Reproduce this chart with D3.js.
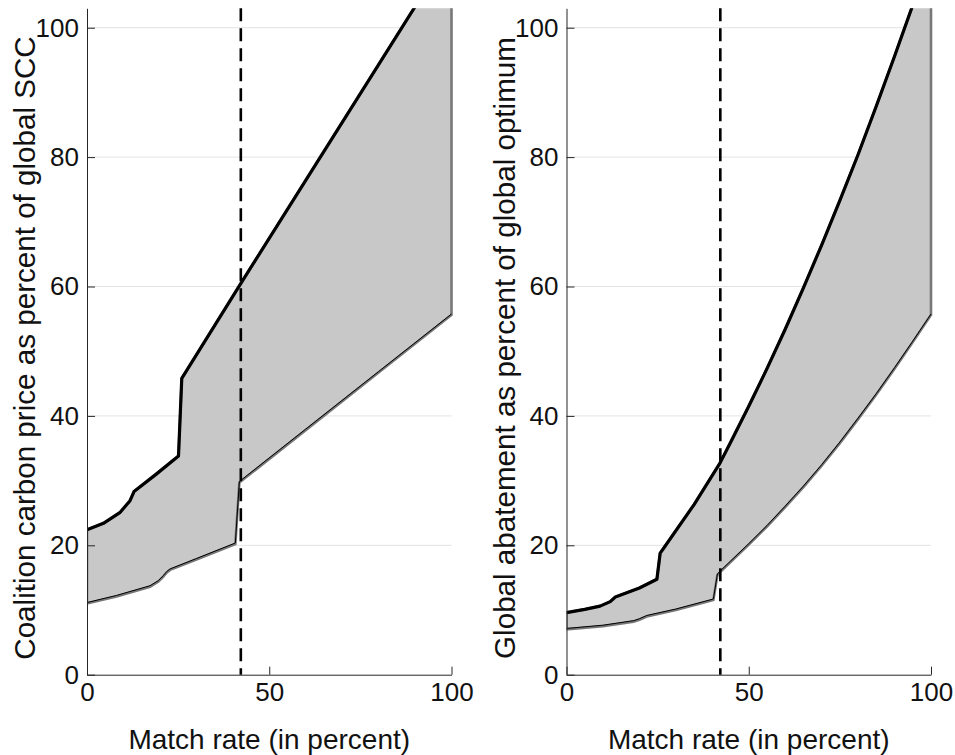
<!DOCTYPE html>
<html>
<head>
<meta charset="utf-8">
<script src="https://cdn.jsdelivr.net/npm/d3@7"></script>
<style>
    body { margin: 0; background: #fff; }
    svg text { font-family: "Liberation Sans", Arial, Helvetica, sans-serif; fill: #111; }
</style>
</head>
<body>
<div id="chart"></div>
<script>

// x = match rate (percent), y = percent of global value

// left panel: coalition carbon price
const priceUpper = [[0, 22.4], [4.5, 23.4], [9.1, 25.1], [11.8, 26.9], [12.9, 28.3], [19, 31.0],
    [25.1, 33.8], [26, 45.8], [42, 60.3], [60, 76.4], [80, 94.3], [100, 112.2]];
const priceLower = [[0, 11.0], [8.1, 12.1], [17.3, 13.6], [19.6, 14.4], [21, 15.2], [21.9, 15.8],
    [22.8, 16.2], [30, 17.8], [40.7, 20.2], [41.8, 29.7], [60, 37.8], [80, 46.7], [100, 55.6]];

// right panel: global abatement
const abateUpper = [[0, 9.6], [5, 10.1], [9.2, 10.6], [12, 11.3], [13.4, 12.0], [20, 13.4],
    [24.8, 14.75], [25.7, 18.8], [26.6, 19.5], [35, 26.3], [42.1, 32.7], [45, 35.9], [50, 41.5],
    [55, 47.3], [60, 53.4], [65, 59.8], [70, 66.4], [75, 73.3], [80, 80.4], [85, 87.9],
    [90, 95.6], [95, 103.5], [100, 111.7]];
const abateLower = [[0, 7.0], [10, 7.5], [18.4, 8.2], [20, 8.5], [22, 9.0], [30, 10.0],
    [40.3, 11.55], [41.4, 15.4], [42.2, 15.9], [45, 17.4], [50, 20.1], [55, 22.9], [60, 25.9],
    [65, 29.0], [70, 32.3], [75, 35.8], [80, 39.5], [85, 43.3], [90, 47.3], [95, 51.4], [100, 55.6]];

const matchRate = 42.2;          // dashed reference line
const xTicks = [0, 50, 100];
const yTicks = [0, 20, 40, 60, 80, 100];
const xLabel = "Match rate (in percent)";
const yLabels = ["Coalition carbon price as percent of global SCC",
    "Global abatement as percent of global optimum"];


class BandPanel {

    constructor(svg, id, left, upper, lower, yTitle) {
        this.svg = svg;
        this.id = id;
        this.left = left;
        this.upper = upper;
        this.lower = lower;
        this.yTitle = yTitle;

        this.initVis();
    }

    initVis() {
        let vis = this;

        vis.width = 364.5;
        vis.top = 8.3;
        vis.bottom = 674.7;

        vis.x = d3.scaleLinear().domain([0, 100]).range([vis.left, vis.left + vis.width]);
        vis.y = d3.scaleLinear().domain([0, 103]).range([vis.bottom, vis.top]);

        vis.g = vis.svg.append("g");

        // clip to the axes box (a little slack on the right for the edge line)
        vis.g.append("clipPath").attr("id", "clip-" + vis.id)
            .append("rect")
            .attr("x", vis.x(0))
            .attr("y", vis.y(103))
            .attr("width", vis.width + 2)
            .attr("height", vis.y(0) - vis.y(103));

        // grid
        vis.g.selectAll(".grid")
            .data(yTicks.filter(d => d > 0))
            .enter().append("line")
            .attr("class", "grid")
            .attr("x1", vis.x(0)).attr("x2", vis.x(100))
            .attr("y1", d => vis.y(d)).attr("y2", d => vis.y(d))
            .attr("stroke", "#e3e3e3")
            .attr("stroke-width", 1);

        vis.plot = vis.g.append("g").attr("clip-path", `url(#clip-${vis.id})`);

        vis.line = d3.line().x(d => vis.x(d[0])).y(d => vis.y(d[1]));

        vis.updateVis();
    }

    updateVis() {
        let vis = this;

        // band between the two curves
        let band = vis.upper.concat(vis.lower.slice().reverse());
        vis.plot.append("path")
            .datum(band)
            .attr("d", d => vis.line(d) + "Z")
            .attr("fill", "#c8c8c8")
            .attr("stroke", "#787878")
            .attr("stroke-width", 2.6);

        // lower bound, thin black on the grey edge
        vis.plot.append("path")
            .datum(vis.lower)
            .attr("d", vis.line)
            .attr("transform", "translate(0,-1)")
            .attr("fill", "none")
            .attr("stroke", "#000")
            .attr("stroke-width", 1);

        // upper bound
        vis.plot.append("path")
            .datum(vis.upper)
            .attr("d", vis.line)
            .attr("fill", "none")
            .attr("stroke", "#000")
            .attr("stroke-width", 3.2)
            .attr("stroke-linejoin", "round");

        // dashed match rate
        vis.g.append("line")
            .attr("x1", vis.x(matchRate)).attr("x2", vis.x(matchRate))
            .attr("y1", vis.y(103)).attr("y2", vis.y(0))
            .attr("stroke", "#000")
            .attr("stroke-width", 2.6)
            .attr("stroke-dasharray", "13,7");

        // axes, ticks inward
        let xAxis = d3.axisBottom(vis.x).tickValues(xTicks)
            .tickSizeInner(-8).tickSizeOuter(0).tickPadding(8);
        let yAxis = d3.axisLeft(vis.y).tickValues(yTicks)
            .tickSizeInner(-8).tickSizeOuter(0).tickPadding(8);

        let gx = vis.g.append("g")
            .attr("transform", `translate(0,${vis.bottom})`)
            .call(xAxis);
        let gy = vis.g.append("g")
            .attr("transform", `translate(${vis.left},0)`)
            .call(yAxis);

        [gx, gy].forEach(a => {
            a.select(".domain").attr("stroke", "#262626").attr("stroke-width", 1);
            a.selectAll(".tick line").attr("stroke", "#262626");
            a.selectAll("text")
                .attr("font-size", 26)
                .attr("font-family", "Liberation Sans, Arial, sans-serif")
                .attr("fill", "#111");
        });

        // titles
        vis.g.append("text")
            .attr("x", vis.x(50))
            .attr("y", 749)
            .attr("text-anchor", "middle")
            .attr("font-size", 28)
            .text(xLabel);

        vis.g.append("text")
            .attr("transform", `translate(${vis.left - 52},348) rotate(-90)`)
            .attr("text-anchor", "middle")
            .attr("font-size", 29.6)
            .text(vis.yTitle);
    }
}


let svg = d3.select("#chart").append("svg")
    .attr("width", 955)
    .attr("height", 755);

new BandPanel(svg, "price", 87, priceUpper, priceLower, yLabels[0]);
new BandPanel(svg, "abate", 566.5, abateUpper, abateLower, yLabels[1]);

</script>
</body>
</html>
